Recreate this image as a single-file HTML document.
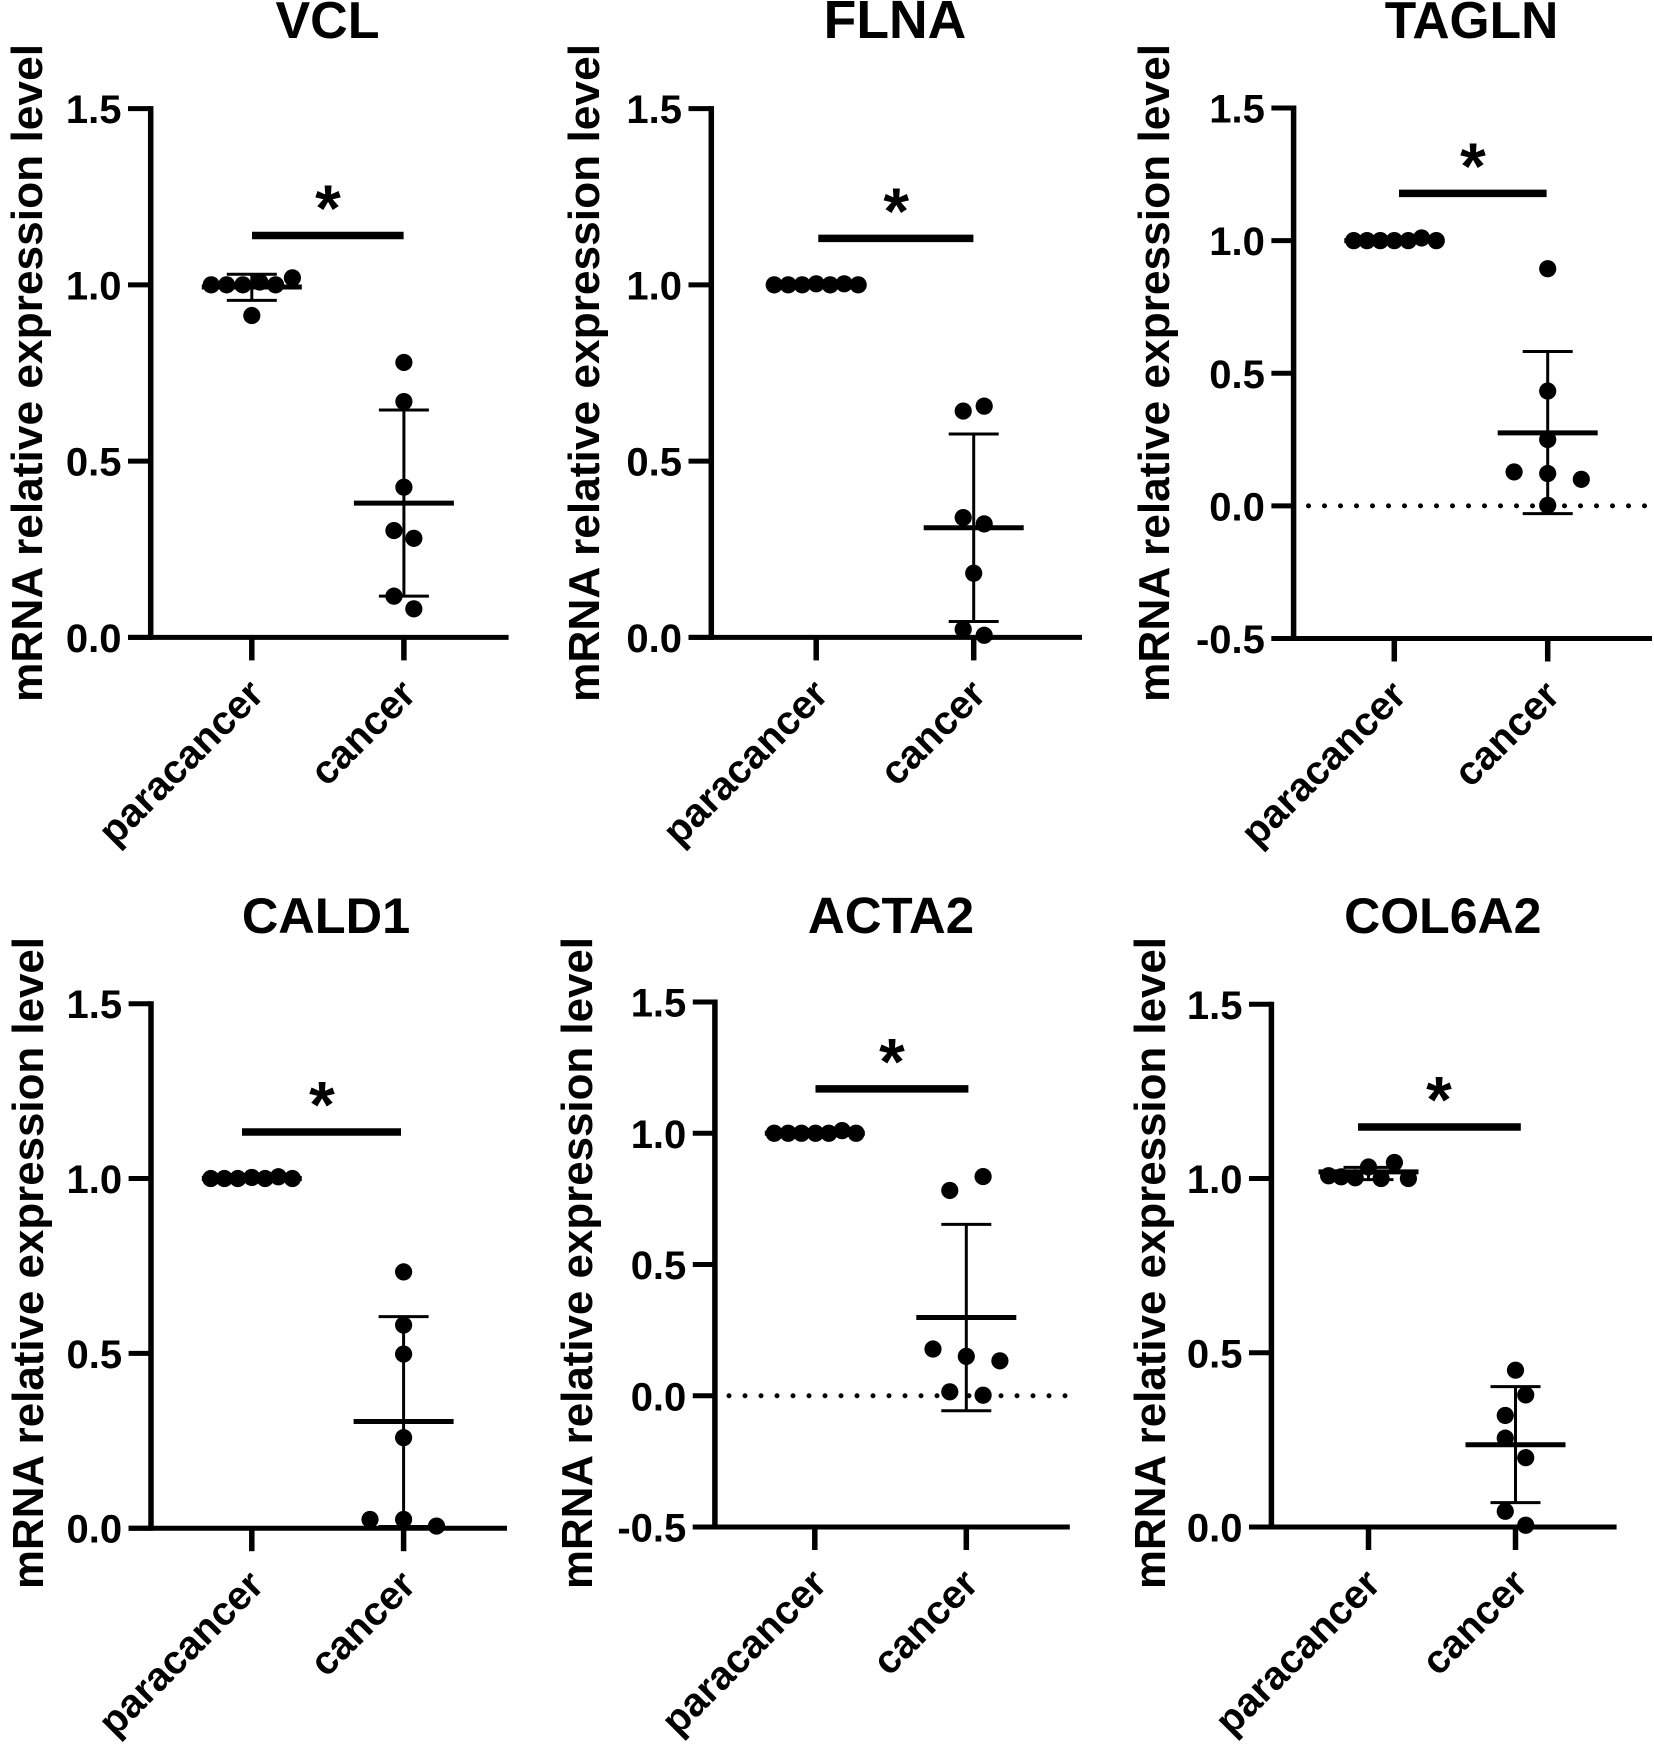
<!DOCTYPE html>
<html lang="en">
<head>
<meta charset="utf-8">
<title>mRNA relative expression level: paracancer vs cancer</title>
<style>
html,body{margin:0;padding:0;background:#fff}
svg{display:block}
text{font-family:"Liberation Sans",Arial,sans-serif;font-weight:700;fill:#000}
</style>
</head>
<body>
<svg id="figure" xmlns="http://www.w3.org/2000/svg" width="1654" height="1750" viewBox="0 0 1654 1750"></svg>
<script>
const categories = ['paracancer', 'cancer'];
const yAxisTitle = 'mRNA relative expression level';
const significanceLabel = '*';
const ticksPositive = [0, 0.5, 1, 1.5];
const ticksWithNegative = [-0.5, 0, 0.5, 1, 1.5];

const vclParacancerValues = [1, 1, 1, 1.008, 1, 1.02, 0.913];
const vclParacancerSlots = [-2.9, -1.8, -0.64, 0.57, 1.7, 2.9, 0];
const vclCancerValues = [0.78, 0.669, 0.426, 0.303, 0.281, 0.117, 0.081];
const vclCancerSlots = [0, 0, 0, -0.71, 0.71, -0.71, 0.71];
const vclMeans = [0.994, 0.381];
const vclErrorHigh = [1.03, 0.645];
const vclErrorLow = [0.956, 0.117];

const flnaParacancerValues = [1, 1, 1, 1.003, 1, 1.003, 1];
const flnaParacancerSlots = [-3, -2, -1, 0, 1, 2, 3];
const flnaCancerValues = [0.656, 0.642, 0.34, 0.322, 0.182, 0.023, 0.006];
const flnaCancerSlots = [0.75, -0.75, -0.75, 0.75, 0, -0.75, 0.75];
const flnaMeans = [1, 0.311];
const flnaErrorHigh = [1, 0.577];
const flnaErrorLow = [1, 0.045];

const taglnParacancerValues = [1, 1, 1, 1, 1, 1.01, 1];
const taglnParacancerSlots = [-2.9, -1.95, -1, 0, 1, 1.95, 3];
const taglnCancerValues = [0.894, 0.433, 0.25, 0.128, 0.122, 0.1, 0.002];
const taglnCancerSlots = [0, 0, 0, -2.4, 0, 2.4, 0];
const taglnMeans = [1, 0.275];
const taglnErrorHigh = [1, 0.582];
const taglnErrorLow = [1, -0.029];

const cald1ParacancerValues = [1, 1, 1, 1.003, 1, 1.005, 1];
const cald1ParacancerSlots = [-2.93, -1.96, -1, 0, 0.95, 1.9, 2.9];
const cald1CancerValues = [0.733, 0.581, 0.498, 0.259, 0.025, 0.025, 0.006];
const cald1CancerSlots = [0, 0, 0, 0, -2.4, 0, 2.35];
const cald1Means = [1, 0.305];
const cald1ErrorHigh = [1, 0.605];
const cald1ErrorLow = [1, 0.005];

const acta2ParacancerValues = [1, 1, 1, 1, 1, 1.01, 1];
const acta2ParacancerSlots = [-2.9, -1.9, -0.95, 0.05, 1, 1.95, 2.95];
const acta2CancerValues = [0.835, 0.782, 0.178, 0.15, 0.133, 0.015, 0.002];
const acta2CancerSlots = [1.2, -1.18, -2.38, 0, 2.4, -1.18, 1.2];
const acta2Means = [1, 0.298];
const acta2ErrorHigh = [1, 0.653];
const acta2ErrorLow = [1, -0.057];

const col6a2ParacancerValues = [1.008, 1.005, 1.002, 1.033, 1, 1.046, 1];
const col6a2ParacancerSlots = [-2.85, -1.95, -0.95, 0, 0.9, 1.85, 2.85];
const col6a2CancerValues = [0.45, 0.379, 0.32, 0.255, 0.199, 0.045, 0.005];
const col6a2CancerSlots = [0, 0.73, -0.73, -0.73, 0.73, -0.73, 0.73];
const col6a2Means = [1.019, 0.236];
const col6a2ErrorHigh = [1.032, 0.403];
const col6a2ErrorLow = [0.997, 0.07];

const significanceLevels = [1.14, 1.132, 1.178, 1.133, 1.169, 1.148];

const panels = [
  {name:'vcl', title:'VCL', ticks:ticksPositive, para:vclParacancerValues, paraSlots:vclParacancerSlots, cancer:vclCancerValues, cancerSlots:vclCancerSlots, means:vclMeans, hi:vclErrorHigh, lo:vclErrorLow, zeroLine:false,
   axisX:150.7, tickLeft:128, right:508.6, top:108.6, bottom:637.4, catX:[251.8,403.9], sigX:[252,403.6], starX:328, titleX:327.5, titleY:38, titleSize:52, labelX:42, labelY:373, labelLen:658},
  {name:'flna', title:'FLNA', ticks:ticksPositive, para:flnaParacancerValues, paraSlots:flnaParacancerSlots, cancer:flnaCancerValues, cancerSlots:flnaCancerSlots, means:flnaMeans, hi:flnaErrorHigh, lo:flnaErrorLow, zeroLine:false,
   axisX:711.3, tickLeft:688.5, right:1082, top:108.6, bottom:637.4, catX:[816.2,973.7], sigX:[818.3,973.4], starX:896.2, titleX:895, titleY:38, titleSize:53.5, labelX:599, labelY:373, labelLen:658},
  {name:'tagln', title:'TAGLN', ticks:ticksWithNegative, para:taglnParacancerValues, paraSlots:taglnParacancerSlots, cancer:taglnCancerValues, cancerSlots:taglnCancerSlots, means:taglnMeans, hi:taglnErrorHigh, lo:taglnErrorLow, zeroLine:true, zeroFrom:1308.5, zeroTo:1652,
   axisX:1293.6, tickLeft:1271.4, right:1652, top:108, bottom:638.5, catX:[1394.3,1547.7], sigX:[1399,1546.6], starX:1473, titleX:1471.5, titleY:38, titleSize:51.5, labelX:1169, labelY:373, labelLen:658},
  {name:'cald1', title:'CALD1', ticks:ticksPositive, para:cald1ParacancerValues, paraSlots:cald1ParacancerSlots, cancer:cald1CancerValues, cancerSlots:cald1CancerSlots, means:cald1Means, hi:cald1ErrorHigh, lo:cald1ErrorLow, zeroLine:false,
   axisX:151, tickLeft:128.6, right:507, top:1003.7, bottom:1528.2, catX:[251.8,403.6], sigX:[242,401], starX:322, titleX:326, titleY:933, titleSize:50.5, labelX:43, labelY:1263, labelLen:652},
  {name:'acta2', title:'ACTA2', ticks:ticksWithNegative, para:acta2ParacancerValues, paraSlots:acta2ParacancerSlots, cancer:acta2CancerValues, cancerSlots:acta2CancerSlots, means:acta2Means, hi:acta2ErrorHigh, lo:acta2ErrorLow, zeroLine:true, zeroFrom:729, zeroTo:1067,
   axisX:714.9, tickLeft:692.8, right:1069.8, top:1002, bottom:1527, catX:[814.8,966.3], sigX:[815.5,968.4], starX:892, titleX:891, titleY:933, titleSize:51, labelX:592, labelY:1263, labelLen:652},
  {name:'col6a2', title:'COL6A2', ticks:ticksPositive, para:col6a2ParacancerValues, paraSlots:col6a2ParacancerSlots, cancer:col6a2CancerValues, cancerSlots:col6a2CancerSlots, means:col6a2Means, hi:col6a2ErrorHigh, lo:col6a2ErrorLow, zeroLine:false,
   axisX:1271.4, tickLeft:1249, right:1616.6, top:1004.3, bottom:1527, catX:[1368.5,1515.5], sigX:[1358,1520.8], starX:1439, titleX:1442.8, titleY:933, titleSize:50, labelX:1165, labelY:1263, labelLen:652}
];

const NS = 'http://www.w3.org/2000/svg';
const root = document.getElementById('figure');
const SLOT_WIDTH = 14;
const DOT_RADIUS = 8.6;

function make(parent, tag, attrs, content) {
  const node = document.createElementNS(NS, tag);
  for (const k in attrs) node.setAttribute(k, attrs[k]);
  if (content !== undefined) node.textContent = content;
  parent.appendChild(node);
  return node;
}
function lineEl(parent, x1, y1, x2, y2, width) {
  return make(parent, 'line', {x1:x1, y1:y1, x2:x2, y2:y2, stroke:'#000', 'stroke-width':width});
}
function yScaleFor(p) {
  const lo = p.ticks[0], hi = p.ticks[p.ticks.length - 1];
  return v => p.bottom + (v - lo) / (hi - lo) * (p.top - p.bottom);
}

panels.forEach((p, pi) => {
  const y = yScaleFor(p);
  const g = make(root, 'g', {});
  
  

  const title = make(g, 'text', {x:p.titleX, y:p.titleY, 'text-anchor':'middle', 'font-size':p.titleSize}, p.title);
  
  

  const yTitle = make(g, 'text', {
    transform:'translate(' + p.labelX + ',' + p.labelY + ') rotate(-90)',
    'text-anchor':'middle', 'font-size':44, textLength:p.labelLen, lengthAdjust:'spacingAndGlyphs'
  }, yAxisTitle);
  
  

  const yAxis = lineEl(g, p.axisX, y(p.ticks[p.ticks.length - 1]) - 2.5, p.axisX, p.bottom + 2.5, 5.5);
  
  

  const xAxis = lineEl(g, p.tickLeft, p.bottom, p.right, p.bottom, 5);
  
  

  p.ticks.forEach(t => {
    const mark = lineEl(g, p.tickLeft, y(t), p.axisX, y(t), 5);
    
    
    const label = make(g, 'text', {x:p.tickLeft - 6.5, y:y(t) + 14.5, 'text-anchor':'end', 'font-size':40}, t.toFixed(1));
    
    
  });

  categories.forEach((c, ci) => {
    const mark = lineEl(g, p.catX[ci], p.bottom, p.catX[ci], p.bottom + 23, 5.5);
    
    
    const lx = p.catX[ci] + 14, ly = p.bottom + 59;
    const label = make(g, 'text', {transform:'translate(' + lx + ',' + ly + ') rotate(-45)', 'text-anchor':'end', 'font-size':40}, c);
    
    
  });

  if (p.zeroLine) {
    const zero = make(g, 'line', {x1:p.zeroFrom, y1:y(0), x2:p.zeroTo, y2:y(0), stroke:'#000', 'stroke-width':5, 'stroke-linecap':'round', 'stroke-dasharray':'0 16'});
    
    
  }

  const sigY = y(significanceLevels[pi]);
  const sigBar = lineEl(g, p.sigX[0], sigY, p.sigX[1], sigY, 7.5);
  
  
  const star = make(g, 'text', {x:p.starX, y:sigY - 4.5, 'text-anchor':'middle', 'font-size':66}, significanceLabel);
  
  

  [[p.para, p.paraSlots], [p.cancer, p.cancerSlots]].forEach((group, ci) => {
    const cx = p.catX[ci];
    const stem = lineEl(g, cx, y(p.hi[ci]), cx, y(p.lo[ci]), 3);
    
    
    const capHi = lineEl(g, cx - 25, y(p.hi[ci]), cx + 25, y(p.hi[ci]), 3);
    
    
    const capLo = lineEl(g, cx - 25, y(p.lo[ci]), cx + 25, y(p.lo[ci]), 3);
    
    
    const mean = lineEl(g, cx - 50, y(p.means[ci]), cx + 50, y(p.means[ci]), 5);
    
    
    group[0].forEach((v, i) => {
      const dot = make(g, 'circle', {cx:cx + group[1][i] * SLOT_WIDTH, cy:y(v), r:DOT_RADIUS, fill:'#000'});
      
      
    });
  });
});
</script>
</body>
</html>
